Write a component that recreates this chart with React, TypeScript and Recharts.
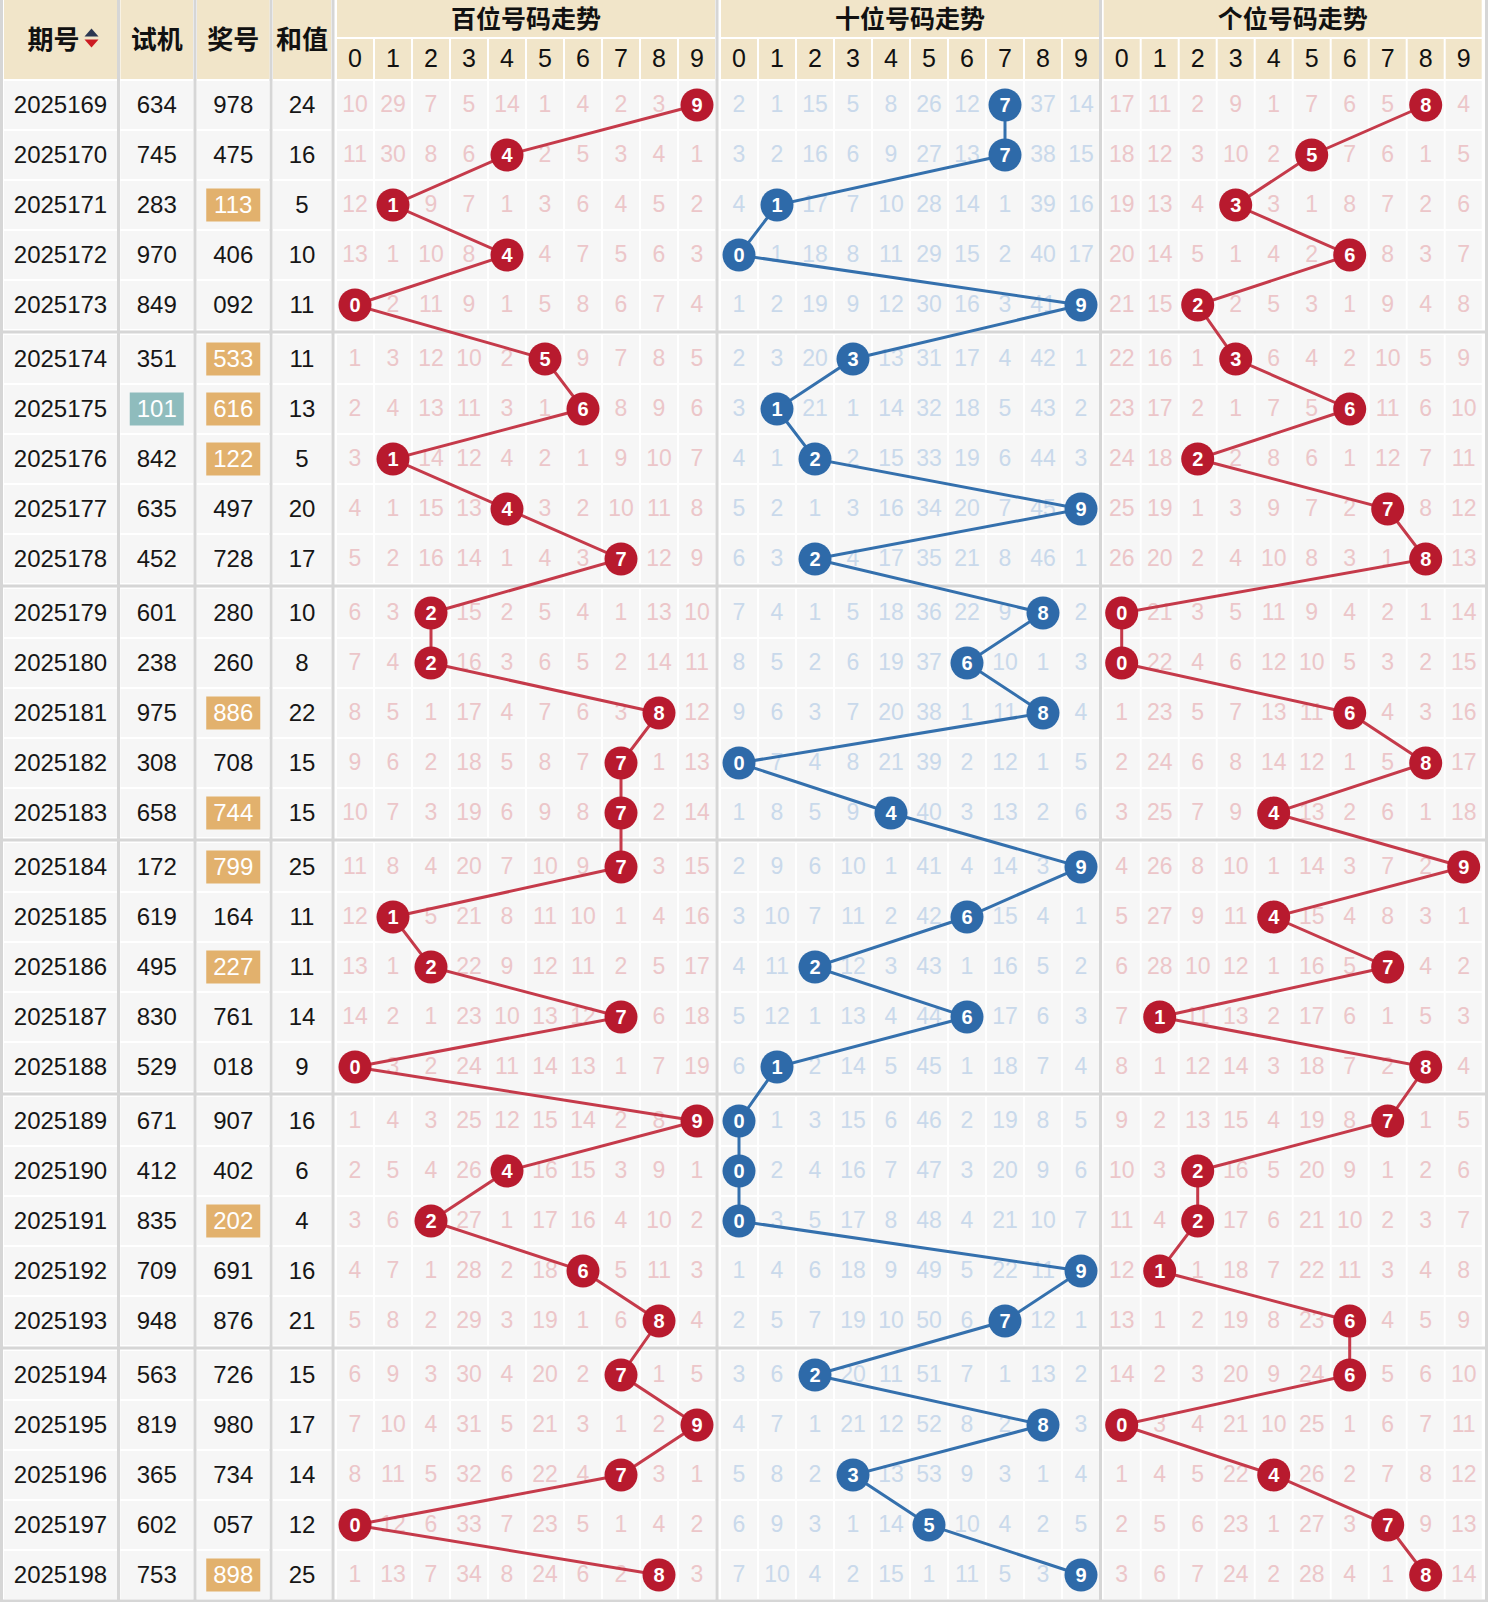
import { ScatterChart, Scatter, XAxis, YAxis, ReferenceArea } from "recharts"

// draw data, 2025169 - 2025198
const issues = [
  "2025169", "2025170", "2025171", "2025172", "2025173", "2025174", "2025175", "2025176", "2025177", "2025178",
  "2025179", "2025180", "2025181", "2025182", "2025183", "2025184", "2025185", "2025186", "2025187", "2025188",
  "2025189", "2025190", "2025191", "2025192", "2025193", "2025194", "2025195", "2025196", "2025197", "2025198",
]
const testDraws = [
  "634", "745", "283", "970", "849", "351", "101", "842", "635", "452",
  "601", "238", "975", "308", "658", "172", "619", "495", "830", "529",
  "671", "412", "835", "709", "948", "563", "819", "365", "602", "753",
]
const draws = [
  "978", "475", "113", "406", "092", "533", "616", "122", "497", "728",
  "280", "260", "886", "708", "744", "799", "164", "227", "761", "018",
  "907", "402", "202", "691", "876", "726", "980", "734", "057", "898",
]
const sums = [24, 16, 5, 10, 11, 11, 13, 5, 20, 17, 10, 8, 22, 15, 15, 25, 11, 11, 14, 9, 16, 6, 4, 16, 21, 15, 17, 14, 12, 25]

// omission counts printed in the first row (2025169); later rows follow from the draws
const firstHundreds = [10, 29, 7, 5, 14, 1, 4, 2, 3, 0]
const firstTens = [2, 1, 15, 5, 8, 26, 12, 0, 37, 14]
const firstUnits = [17, 11, 2, 9, 1, 7, 6, 5, 0, 4]

const digitLabels = ["0", "1", "2", "3", "4", "5", "6", "7", "8", "9"]
const sectionTitles = ["百位号码走势", "十位号码走势", "个位号码走势"]
const leftHeaders = ["期号", "试机", "奖号", "和值"]

// layout
const W = 1488
const H = 1602
const COL_PX = 38
const ROW_PX = 50
const ORIGIN_X = 355
const ORIGIN_Y = 105
const toX = (px: number) => (px - ORIGIN_X) / COL_PX
const toY = (px: number) => (px - ORIGIN_Y) / ROW_PX
const SECTION_START = [0, toX(739), toX(1121.7)]
const GROUP_GAP = 4 / ROW_PX
const rowY = (i: number) => i + Math.floor(i / 5) * GROUP_GAP

const LEFT_COLS = [
  { x0: 4, x1: 117 },
  { x0: 120.5, x1: 193 },
  { x0: 197, x1: 269.5 },
  { x0: 273, x1: 331 },
]

const BEIGE = "#f1e5c9"
const CELL = "#f6f6f6"
const SEP = "#d6d6d6"
const RED = "#b81a2e"
const RED_LINE = "#c53a4a"
const BLUE = "#2e6aa9"
const BLUE_LINE = "#3470ad"
const PINK_TXT = "#ecc6c9"
const BLUE_TXT = "#c9d9eb"
const FONT = "'Liberation Sans', Arial, 'Noto Sans CJK SC', sans-serif"
const CJK = "'Noto Sans CJK SC', 'Liberation Sans', sans-serif"

const isPair = (s: string) => s[0] === s[1] || s[1] === s[2] || s[0] === s[2]

function omissions(pos: number, first: number[]) {
  const rows: number[][] = []
  draws.forEach((d, i) => {
    const hit = Number(d[pos])
    const prev = rows[i - 1]
    rows.push(digitLabels.map((_, k) => (k === hit ? 0 : prev ? prev[k] + 1 : first[k])))
  })
  return rows
}
const omitTables = [omissions(0, firstHundreds), omissions(1, firstTens), omissions(2, firstUnits)]

const headerCells = [
  ...leftHeaders.map((t, c) => ({ x: toX((LEFT_COLS[c].x0 + LEFT_COLS[c].x1) / 2), y: toY(39.5), kind: "left", text: t, w: LEFT_COLS[c].x1 - LEFT_COLS[c].x0 })),
  ...sectionTitles.map((t, s) => ({ x: SECTION_START[s] + 4.5, y: toY(18.5), kind: "title", text: t, w: 378 })),
  ...sectionTitles.flatMap((_, s) => digitLabels.map((d, k) => ({ x: SECTION_START[s] + k, y: toY(59), kind: "digit", text: d, w: 36 }))),
]

const bodyCells = issues.flatMap((issue, i) => {
  const left = [issue, testDraws[i], draws[i], String(sums[i])].map((t, c) => ({
    x: toX((LEFT_COLS[c].x0 + LEFT_COLS[c].x1) / 2),
    y: rowY(i),
    kind: "left",
    text: t,
    w: LEFT_COLS[c].x1 - LEFT_COLS[c].x0,
    hl: c === 1 && isPair(t) ? "#8fbcbd" : c === 2 && isPair(t) ? "#e2b16d" : "",
  }))
  const digits = omitTables.flatMap((tbl, s) =>
    tbl[i].map((v, k) => ({ x: SECTION_START[s] + k, y: rowY(i), kind: "omit", text: v ? String(v) : "", color: s === 1 ? BLUE_TXT : PINK_TXT, w: 36 }))
  )
  return [...left, ...digits]
})

const balls = [0, 1, 2].map((s) =>
  draws.map((d, i) => ({ x: SECTION_START[s] + Number(d[s]), y: rowY(i), text: d[s] }))
)

const HeaderShape = (p: any) => {
  const { cx, cy, payload } = p
  if (payload.kind === "title") {
    return (
      <g>
        <rect x={cx - payload.w / 2} y={cy - 18.5} width={payload.w} height={37} fill={BEIGE} />
        <text x={cx} y={cy - 2} textAnchor="middle" dominantBaseline="central" fontSize={25} fontWeight={700} fontFamily={CJK} fill="#111">
          {payload.text}
        </text>
      </g>
    )
  }
  if (payload.kind === "digit") {
    return (
      <g>
        <rect x={cx - 18} y={cy - 20} width={36} height={40} fill={BEIGE} />
        <text x={cx} y={cy - 1} textAnchor="middle" dominantBaseline="central" fontSize={25} fontFamily={FONT} fill="#111">
          {payload.text}
        </text>
      </g>
    )
  }
  const sort = payload.text === "期号"
  const tx = sort ? cx - 7 : cx
  return (
    <g>
      <rect x={cx - payload.w / 2} y={cy - 39.5} width={payload.w} height={79} fill={BEIGE} />
      <text x={tx} y={cy - 2} textAnchor="middle" dominantBaseline="central" fontSize={26} fontWeight={700} fontFamily={CJK} fill="#111">
        {payload.text}
      </text>
      {sort && (
        <g>
          <path d={`M${cx + 24},${cy - 3} L${cx + 38},${cy - 3} L${cx + 31},${cy - 11} Z`} fill="#2b3752" />
          <path d={`M${cx + 24},${cy} L${cx + 38},${cy} L${cx + 31},${cy + 8} Z`} fill="#cc1b22" />
        </g>
      )}
    </g>
  )
}

const CellShape = (p: any) => {
  const { cx, cy, payload } = p
  if (payload.kind === "left") {
    return (
      <g>
        <rect x={cx - payload.w / 2} y={cy - 24} width={payload.w} height={48} fill={CELL} />
        {payload.hl && <rect x={cx - 27} y={cy - 16.5} width={54} height={33} fill={payload.hl} />}
        <text x={cx} y={cy - 1} textAnchor="middle" dominantBaseline="central" fontSize={24} fontFamily={FONT} fill={payload.hl ? "#fff" : "#161616"}>
          {payload.text}
        </text>
      </g>
    )
  }
  return (
    <g>
      <rect x={cx - 18} y={cy - 24} width={36} height={48} fill={CELL} />
      <text x={cx} y={cy - 1} textAnchor="middle" dominantBaseline="central" fontSize={23} fontFamily={FONT} fill={payload.color}>
        {payload.text}
      </text>
    </g>
  )
}

const ballShape = (color: string) => (p: any) => {
  const { cx, cy, payload } = p
  return (
    <g>
      <circle cx={cx} cy={cy} r={16.5} fill={color} />
      <text x={cx} y={cy} textAnchor="middle" dominantBaseline="central" fontSize={20} fontWeight={700} fontFamily={FONT} fill="#fff">
        {payload.text}
      </text>
    </g>
  )
}

// gray rules between column blocks and after every five draws
const vSeps = [[0, 3], [117, 120], [193.5, 196.5], [269.5, 272.5], [331.5, 334.5], [715.5, 718.5], [1099, 1102], [1485, 1488]]
const hSeps = [0, 1, 2, 3, 4].map((k) => rowY(5 * k + 4) + 27 / ROW_PX)

export default function App() {
  return (
    <div style={{ width: W, height: H, background: "#fff" }}>
      <style>{"body{margin:0}"}</style>
      <ScatterChart width={W} height={H} margin={{ top: 0, right: 0, bottom: 0, left: 0 }}>
        <XAxis type="number" dataKey="x" domain={[toX(0), toX(W)]} hide allowDataOverflow />
        <YAxis type="number" dataKey="y" domain={[toY(0), toY(H)]} hide reversed allowDataOverflow />
        <Scatter data={headerCells} shape={HeaderShape} isAnimationActive={false} />
        <Scatter data={bodyCells} shape={CellShape} isAnimationActive={false} />
        {vSeps.map(([a, b], i) => (
          <ReferenceArea key={`v${i}`} x1={toX(a)} x2={toX(b)} y1={toY(0)} y2={toY(H)} fill={SEP} fillOpacity={1} stroke="none" />
        ))}
        {hSeps.map((y, i) => (
          <ReferenceArea key={`h${i}`} x1={toX(0)} x2={toX(W)} y1={y - 1.5 / ROW_PX} y2={y + 1.5 / ROW_PX} fill={SEP} fillOpacity={1} stroke="none" />
        ))}
        <ReferenceArea x1={toX(0)} x2={toX(W)} y1={toY(1599.5)} y2={toY(H)} fill={SEP} fillOpacity={1} stroke="none" />
        <Scatter data={balls[0]} shape={ballShape(RED)} line={{ stroke: RED_LINE, strokeWidth: 3 }} isAnimationActive={false} />
        <Scatter data={balls[1]} shape={ballShape(BLUE)} line={{ stroke: BLUE_LINE, strokeWidth: 3 }} isAnimationActive={false} />
        <Scatter data={balls[2]} shape={ballShape(RED)} line={{ stroke: RED_LINE, strokeWidth: 3 }} isAnimationActive={false} />
      </ScatterChart>
    </div>
  )
}
